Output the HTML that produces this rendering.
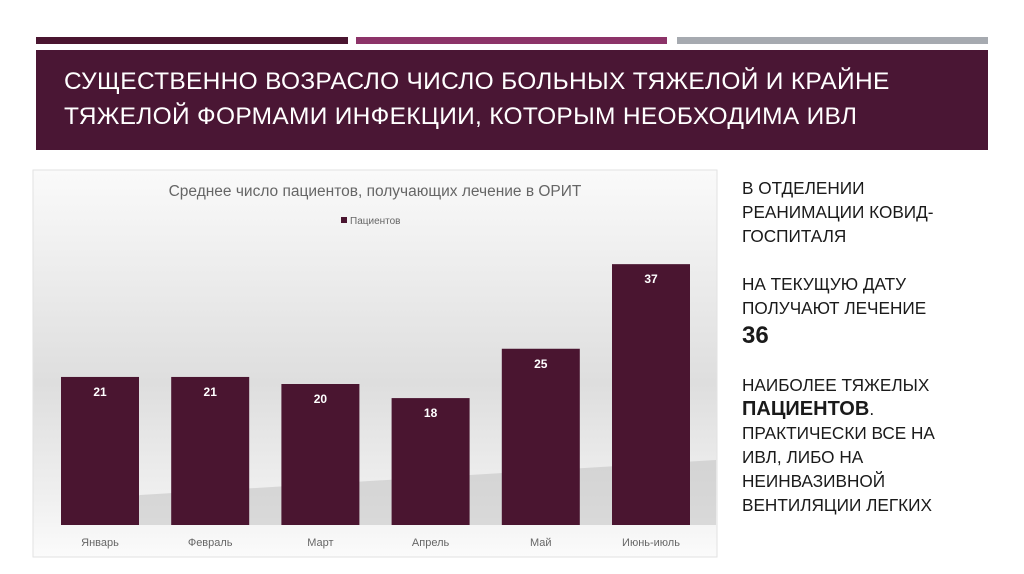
<!DOCTYPE html>
<html><head><meta charset="utf-8"><style>
body{margin:0;width:1024px;height:574px;background:#fff;position:relative;overflow:hidden;font-family:"Liberation Sans","Noto Sans CJK SC",sans-serif}
.abs{position:absolute}
.side{position:absolute;left:742px;font-size:17.2px;color:#1a1a1a;line-height:24px;white-space:nowrap}
</style></head><body>
<div class="abs" style="left:36px;top:37px;width:312px;height:7px;background:#4a1530"></div>
<div class="abs" style="left:356px;top:37px;width:311px;height:7px;background:#8c3368"></div>
<div class="abs" style="left:677px;top:37px;width:311px;height:7px;background:#a6aab0"></div>
<div class="abs" style="left:36px;top:50px;width:952px;height:100px;background:#4a1634"></div>
<div class="abs" style="left:64px;top:64px;color:#fff;font-size:24.5px;line-height:35px;letter-spacing:0.3px;white-space:nowrap">СУЩЕСТВЕННО ВОЗРАСЛО ЧИСЛО БОЛЬНЫХ ТЯЖЕЛОЙ И КРАЙНЕ<br>ТЯЖЕЛОЙ ФОРМАМИ ИНФЕКЦИИ, КОТОРЫМ НЕОБХОДИМА ИВЛ</div>

<svg class="abs" style="left:0;top:0" width="1024" height="574">
<defs>
<linearGradient id="bg" x1="0" y1="0" x2="0" y2="1">
<stop offset="0" stop-color="#fafafa"/><stop offset="0.55" stop-color="#dedede"/><stop offset="0.85" stop-color="#f0f0f0"/><stop offset="1" stop-color="#fbfbfb"/></linearGradient>
</defs>
<rect x="33" y="170" width="684" height="387" fill="url(#bg)" stroke="#e2e2e2"/>
<polygon points="80,525 716,525 716,460 140,495" fill="#bdbdbd" opacity="0.5"/>
<text x="375" y="196" text-anchor="middle" font-size="15.5" fill="#666">Среднее число пациентов,  получающих лечение в ОРИТ</text>
<rect x="341" y="217" width="6" height="6" fill="#4a1530"/>
<text x="350" y="224" font-size="10" fill="#666">Пациентов</text>
<g id="bars"></g>
</svg>

<div class="side" style="top:176px">В ОТДЕЛЕНИИ<br>РЕАНИМАЦИИ КОВИД-<br>ГОСПИТАЛЯ</div>
<div class="side" style="top:272px">НА ТЕКУЩУЮ ДАТУ<br>ПОЛУЧАЮТ ЛЕЧЕНИЕ</div>
<div class="side" style="top:322px;font-size:24px;font-weight:bold;line-height:28px">36</div>
<div class="side" style="top:373px">НАИБОЛЕЕ ТЯЖЕЛЫХ<br><b style="font-size:20px">ПАЦИЕНТОВ</b>.<br>ПРАКТИЧЕСКИ ВСЕ НА<br>ИВЛ, ЛИБО НА<br>НЕИНВАЗИВНОЙ<br>ВЕНТИЛЯЦИИ ЛЕГКИХ</div>

<script>
const categories=["Январь","Февраль","Март","Апрель","Май","Июнь-июль"];
const values=[21,21,20,18,25,37];
const x0=61, step=110.2, bw=78, y0=525, ppu=7.05;
function xs(i){return x0+i*step;}
function ys(v){return y0-v*ppu;}
const g=document.getElementById('bars');
const ns="http://www.w3.org/2000/svg";
values.forEach((v,i)=>{
  const r=document.createElementNS(ns,'rect');
  r.setAttribute('x',xs(i));r.setAttribute('y',ys(v));
  r.setAttribute('width',bw);r.setAttribute('height',y0-ys(v));
  r.setAttribute('fill','#4a1530');
  
  
  g.appendChild(r);
  const t=document.createElementNS(ns,'text');
  t.setAttribute('x',xs(i)+bw/2);t.setAttribute('y',ys(v)+19);
  t.setAttribute('text-anchor','middle');t.setAttribute('font-size','12');
  t.setAttribute('font-weight','bold');t.setAttribute('fill','#fff');
  t.textContent=v;
  
  
  g.appendChild(t);
  const c=document.createElementNS(ns,'text');
  c.setAttribute('x',xs(i)+bw/2);c.setAttribute('y',546);
  c.setAttribute('text-anchor','middle');c.setAttribute('font-size','11');
  c.setAttribute('fill','#666');
  c.textContent=categories[i];
  
  
  g.appendChild(c);
});
</script>
</body></html>
